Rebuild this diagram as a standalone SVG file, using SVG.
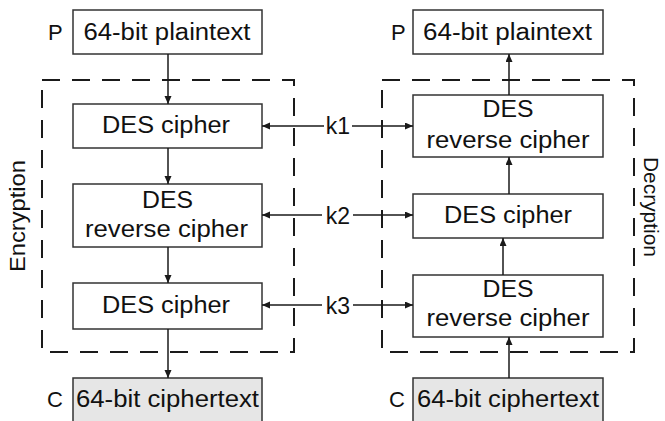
<svg xmlns="http://www.w3.org/2000/svg" width="665" height="421" viewBox="0 0 665 421">
<defs>
<marker id="ah" markerWidth="9" markerHeight="8" refX="8" refY="3.5" orient="auto" markerUnits="userSpaceOnUse">
<path d="M0,0 L8,3.5 L0,7 z" fill="#1a1a1a"/>
</marker>
<style>
.box{fill:#fff;stroke:#333;stroke-width:1.5}
.cbox{fill:#e6e6e6;stroke:#333;stroke-width:1.5}
.dash{fill:none;stroke:#1a1a1a;stroke-width:2;stroke-dasharray:18 12}
.t{font-family:"Liberation Sans",Arial,sans-serif;font-size:23px;fill:#111;text-anchor:middle}
.l{font-family:"Liberation Sans",Arial,sans-serif;font-size:22px;fill:#111}
.c{fill:none;stroke:#1a1a1a;stroke-width:1.5}
</style>
</defs>
<rect width="665" height="421" fill="#fff"/>

<g id="enc-frame">
<rect class="dash" x="42" y="80" width="252" height="272"/>
<text class="l" transform="translate(25,272) rotate(-90)" textLength="112" lengthAdjust="spacingAndGlyphs">Encryption</text>
</g>
<g id="dec-frame">
<rect class="dash" x="382" y="80" width="252" height="272"/>
<text class="l" transform="translate(644,157) rotate(90)" style="font-size:20px" textLength="100" lengthAdjust="spacingAndGlyphs">Decryption</text>
</g>

<g id="enc-plain">
<rect class="box" x="73" y="10" width="189" height="44"/>
<text class="l" x="48" y="40">P</text>
<text class="t" x="167" y="40" textLength="167" lengthAdjust="spacingAndGlyphs">64-bit plaintext</text>
</g>
<g id="enc-des1">
<rect class="box" x="73" y="104" width="189" height="44"/>
<text class="t" x="166" y="133" textLength="128" lengthAdjust="spacingAndGlyphs">DES cipher</text>
</g>
<g id="enc-des2">
<rect class="box" x="73" y="184" width="189" height="63"/>
<text class="t" x="167.5" y="208" textLength="51" lengthAdjust="spacingAndGlyphs">DES</text>
<text class="t" x="166.5" y="237" textLength="163" lengthAdjust="spacingAndGlyphs">reverse cipher</text>
</g>
<g id="enc-des3">
<rect class="box" x="73" y="283" width="189" height="46"/>
<text class="t" x="166" y="313" textLength="128" lengthAdjust="spacingAndGlyphs">DES cipher</text>
</g>
<g id="enc-cipher">
<rect class="cbox" x="73" y="378" width="189" height="60"/>
<text class="l" x="47" y="407">C</text>
<text class="t" x="167.5" y="407" textLength="183" lengthAdjust="spacingAndGlyphs">64-bit ciphertext</text>
</g>

<g id="dec-plain">
<rect class="box" x="413" y="10" width="190" height="44"/>
<text class="l" x="391" y="40">P</text>
<text class="t" x="507.5" y="40" textLength="169" lengthAdjust="spacingAndGlyphs">64-bit plaintext</text>
</g>
<g id="dec-des1">
<rect class="box" x="413" y="95" width="190" height="62"/>
<text class="t" x="508" y="117" textLength="51" lengthAdjust="spacingAndGlyphs">DES</text>
<text class="t" x="508" y="148" textLength="163" lengthAdjust="spacingAndGlyphs">reverse cipher</text>
</g>
<g id="dec-des2">
<rect class="box" x="413" y="194" width="190" height="44"/>
<text class="t" x="508" y="223" textLength="128" lengthAdjust="spacingAndGlyphs">DES cipher</text>
</g>
<g id="dec-des3">
<rect class="box" x="413" y="275" width="190" height="62"/>
<text class="t" x="508" y="297" textLength="51" lengthAdjust="spacingAndGlyphs">DES</text>
<text class="t" x="508" y="326" textLength="163" lengthAdjust="spacingAndGlyphs">reverse cipher</text>
</g>
<g id="dec-cipher">
<rect class="cbox" x="413" y="378" width="190" height="60"/>
<text class="l" x="389" y="407">C</text>
<text class="t" x="508" y="407" textLength="182" lengthAdjust="spacingAndGlyphs">64-bit ciphertext</text>
</g>

<g id="keys">
<text class="t" x="338" y="134">k1</text>
<text class="t" x="338" y="224">k2</text>
<text class="t" x="338" y="314">k3</text>
</g>

<g id="connectors">
<line class="c" x1="168" y1="54" x2="168" y2="104" marker-end="url(#ah)"/>
<line class="c" x1="168" y1="148" x2="168" y2="184" marker-end="url(#ah)"/>
<line class="c" x1="168" y1="247" x2="168" y2="283" marker-end="url(#ah)"/>
<line class="c" x1="168" y1="329" x2="168" y2="378" marker-end="url(#ah)"/>
<line class="c" x1="509" y1="378" x2="509" y2="337" marker-end="url(#ah)"/>
<line class="c" x1="503" y1="275" x2="503" y2="238" marker-end="url(#ah)"/>
<line class="c" x1="509" y1="194" x2="509" y2="157" marker-end="url(#ah)"/>
<line class="c" x1="509" y1="95" x2="509" y2="54" marker-end="url(#ah)"/>
<line class="c" x1="324" y1="126" x2="262" y2="126" marker-end="url(#ah)"/>
<line class="c" x1="352" y1="126" x2="413" y2="126" marker-end="url(#ah)"/>
<line class="c" x1="322" y1="215" x2="262" y2="215" marker-end="url(#ah)"/>
<line class="c" x1="353" y1="215" x2="413" y2="215" marker-end="url(#ah)"/>
<line class="c" x1="322" y1="305" x2="262" y2="305" marker-end="url(#ah)"/>
<line class="c" x1="353" y1="305" x2="413" y2="305" marker-end="url(#ah)"/>
</g>
</svg>
